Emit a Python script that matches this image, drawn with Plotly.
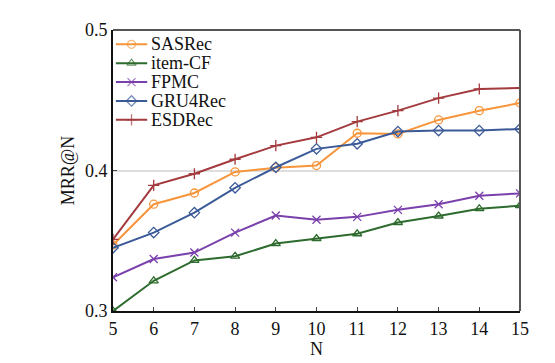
import plotly.graph_objects as go

N = [5, 6, 7, 8, 9, 10, 11, 12, 13, 14, 15]
sasrec = [0.347, 0.376, 0.384, 0.399, 0.402, 0.4035, 0.4265, 0.426, 0.436, 0.4426, 0.448]
itemcf = [0.300, 0.3215, 0.336, 0.339, 0.348, 0.3516, 0.355, 0.363, 0.3676, 0.3728, 0.375]
fpmc = [0.324, 0.337, 0.3416, 0.3558, 0.368, 0.365, 0.367, 0.372, 0.376, 0.382, 0.3837]
gru4rec = [0.345, 0.3558, 0.370, 0.3877, 0.4023, 0.4154, 0.419, 0.4277, 0.4284, 0.4284, 0.4296]
esdrec = [0.351, 0.3894, 0.3977, 0.408, 0.4177, 0.4236, 0.4348, 0.4426, 0.4515, 0.458, 0.4587]

series = [
    ("SASRec", sasrec, "#F7953B", "circle-open"),
    ("item-CF", itemcf, "#2E6B2E", "triangle-up-open"),
    ("FPMC", fpmc, "#7A40AC", "x-thin-open"),
    ("GRU4Rec", gru4rec, "#3B5A98", "diamond-open"),
    ("ESDRec", esdrec, "#A33A3E", "cross-thin-open"),
]

# legend layout (in plot-area fractions)
leg_x0, leg_x1, leg_text_x = 0.007, 0.084, 0.089
leg_top, leg_step = 0.949, 0.0672

font = "Liberation Serif"
fig = go.Figure()
annotations = []
for i, (name, vals, color, sym) in enumerate(series):
    fig.add_trace(go.Scatter(
        x=N, y=vals, name=name, mode="lines+markers", showlegend=False,
        line=dict(color=color, width=2),
        marker=dict(symbol=sym, size=8, color=color, line=dict(color=color, width=1.3)),
    ))
    ly = leg_top - i * leg_step
    fig.add_trace(go.Scatter(
        x=[leg_x0, (leg_x0 + leg_x1) / 2, leg_x1], y=[ly, ly, ly],
        xaxis="x2", yaxis="y2", mode="lines+markers", showlegend=False, hoverinfo="skip",
        line=dict(color=color, width=2),
        marker=dict(symbol=sym, size=[0, 8, 0], color=color, line=dict(color=color, width=1.3)),
    ))
    annotations.append(dict(x=leg_text_x, y=ly, xref="x2", yref="y2", text=name,
                            showarrow=False, xanchor="left", yanchor="middle",
                            font=dict(family=font, size=18, color="#111")))

fig.update_layout(
    width=555, height=363,
    margin=dict(l=105, r=43, t=20, b=60),
    paper_bgcolor="white", plot_bgcolor="white",
    font=dict(family=font, size=17, color="#111"),
    showlegend=False,
    annotations=annotations,
    xaxis=dict(range=[5, 15], tickvals=N, ticks="inside", ticklen=4,
               showline=True, linecolor="#111", linewidth=2, mirror=False,
               showgrid=False, zeroline=False,
               title=dict(text="N", standoff=2, font=dict(size=18, family=font)),
               tickfont=dict(size=18, family=font)),
    yaxis=dict(range=[0.3, 0.5], tickvals=[0.3, 0.4, 0.5], ticktext=["0.3", "0.4", "0.5"],
               ticks="inside", ticklen=4,
               showline=True, linecolor="#111", linewidth=2,
               showgrid=True, gridcolor="#dddddd", gridwidth=1.5, zeroline=False,
               title=dict(text="MRR@N", standoff=6, font=dict(size=18, family=font)),
               tickfont=dict(size=18, family=font)),
    xaxis2=dict(overlaying="x", range=[0, 1], visible=False, fixedrange=True),
    yaxis2=dict(overlaying="y", range=[0, 1], visible=False, fixedrange=True),
)
fig.add_shape(type="line", xref="paper", yref="paper", x0=0, x1=1, y0=1, y1=1,
              line=dict(color="#555", width=2))
fig.add_shape(type="line", xref="paper", yref="paper", x0=1, x1=1, y0=0, y1=1,
              line=dict(color="#555", width=2))

fig.write_html("out.html")
